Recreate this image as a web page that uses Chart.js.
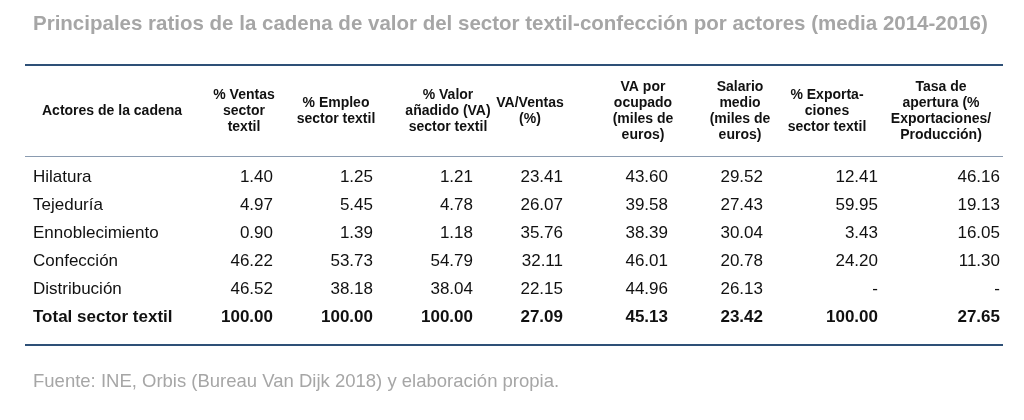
<!DOCTYPE html>
<html><head><meta charset="utf-8">
<script src="https://cdn.jsdelivr.net/npm/chart.js@4/dist/chart.umd.min.js"></script>
<style>html,body{margin:0;padding:0;background:#fff}#w{width:1024px;height:420px}</style>
</head><body><div id="w"><canvas id="c"></canvas></div>
<script>
const title = "Principales ratios de la cadena de valor del sector textil-confección por actores (media 2014-2016)";
const source = "Fuente: INE, Orbis (Bureau Van Dijk 2018) y elaboración propia.";
const headers = [
  ["Actores de la cadena"],
  ["% Ventas","sector","textil"],
  ["% Empleo","sector textil"],
  ["% Valor","añadido (VA)","sector textil"],
  ["VA/Ventas","(%)"],
  ["VA por","ocupado","(miles de","euros)"],
  ["Salario","medio","(miles de","euros)"],
  ["% Exporta-","ciones","sector textil"],
  ["Tasa de","apertura (%","Exportaciones/","Producción)"]
];
const actors = ["Hilatura","Tejeduría","Ennoblecimiento","Confección","Distribución","Total sector textil"];
const ventas = [1.40,4.97,0.90,46.22,46.52,100.00];
const empleo = [1.25,5.45,1.39,53.73,38.18,100.00];
const valorAnadido = [1.21,4.78,1.18,54.79,38.04,100.00];
const vaVentas = [23.41,26.07,35.76,32.11,22.15,27.09];
const vaOcupado = [43.60,39.58,38.39,46.01,44.96,45.13];
const salario = [29.52,27.43,30.04,20.78,26.13,23.42];
const exportaciones = [12.41,59.95,3.43,24.20,null,100.00];
const apertura = [46.16,19.13,16.05,11.30,null,27.65];
const series = [ventas,empleo,valorAnadido,vaVentas,vaOcupado,salario,exportaciones,apertura];

const colRight = [273,373,473,563,668,763,878,1000];
const colCenter = [244,336,448,530,643,740,827,941];
const rowY0 = 177, rowStep = 28;

const tablePlugin = {
  id:'table',
  afterDraw(chart){
    const ctx = chart.ctx, X = chart.scales.x, Y = chart.scales.y;
    const px = v => X.getPixelForValue(v), py = v => Y.getPixelForValue(v);
    ctx.save();
    ctx.fillStyle = '#a6a6a6';
    ctx.font = 'bold 20.5px "Liberation Sans", Arial, sans-serif';
    ctx.textBaseline = 'middle'; ctx.textAlign = 'left';
    ctx.fillText(title, px(33), py(24));
    ctx.strokeStyle = '#2e5077'; ctx.lineWidth = 2;
    ctx.beginPath(); ctx.moveTo(px(25),py(65)); ctx.lineTo(px(1003),py(65)); ctx.stroke();
    ctx.beginPath(); ctx.moveTo(px(25),py(345)); ctx.lineTo(px(1003),py(345)); ctx.stroke();
    ctx.strokeStyle = '#8a9bb0'; ctx.lineWidth = 1;
    ctx.beginPath(); ctx.moveTo(px(25),py(156.5)); ctx.lineTo(px(1003),py(156.5)); ctx.stroke();
    ctx.fillStyle = '#111';
    ctx.font = 'bold 14px "Liberation Sans", Arial, sans-serif';
    const hc = 111, lh = 16;
    ctx.textAlign = 'left';
    ctx.fillText(headers[0][0], px(42), py(hc));
    ctx.textAlign = 'center';
    for (let j=1;j<headers.length;j++){
      const lines = headers[j];
      const top = hc - (lines.length-1)*lh/2;
      lines.forEach((t,k)=>ctx.fillText(t, px(colCenter[j-1]), py(top+k*lh)));
    }
    actors.forEach((a,i)=>{
      const bold = i===actors.length-1;
      ctx.font = (bold?'bold ':'')+'17px "Liberation Sans", Arial, sans-serif';
      const y = py(rowY0 + i*rowStep);
      ctx.textAlign = 'left'; ctx.fillText(a, px(33), y);
      ctx.textAlign = 'right';
      series.forEach((s,j)=>{
        const v = s[i];
        ctx.fillText(v==null?'-':v.toFixed(2), px(colRight[j]), y);
      });
    });
    ctx.fillStyle = '#a6a6a6';
    ctx.font = '18.5px "Liberation Sans", Arial, sans-serif';
    ctx.textAlign = 'left';
    ctx.fillText(source, px(33), py(382));
    ctx.restore();
  }
};

new Chart(document.getElementById('c'), {
  type:'scatter',
  data:{datasets:[{data:[]}]},
  options:{
    responsive:true, maintainAspectRatio:false, animation:false,
    layout:{padding:0},
    plugins:{legend:{display:false},tooltip:{enabled:false}},
    scales:{
      x:{type:'linear',min:0,max:1024,display:false},
      y:{type:'linear',min:0,max:420,reverse:true,display:false}
    }
  },
  plugins:[tablePlugin]
});
</script></body></html>
